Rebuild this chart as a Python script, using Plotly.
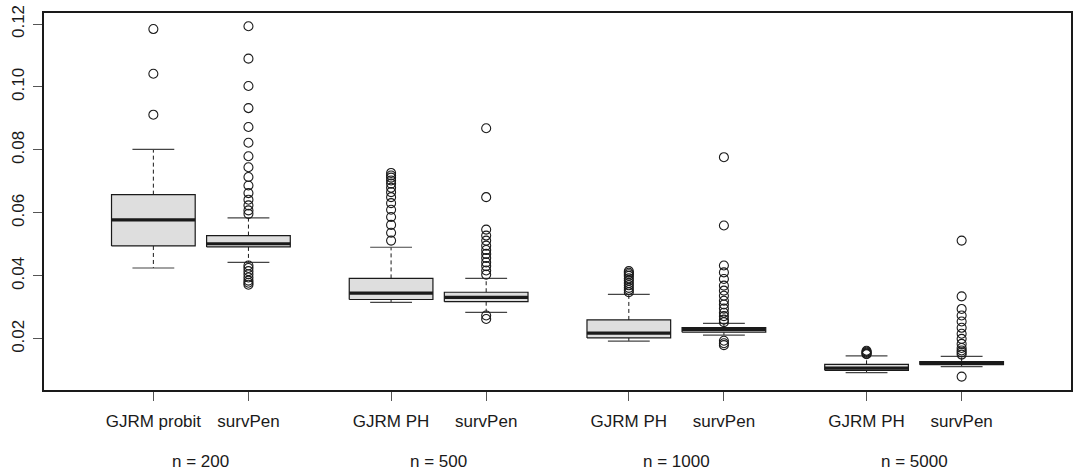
import plotly.graph_objects as go

# ---- data ----
positions = [1, 2, 3.5, 4.5, 6, 7, 8.5, 9.5]
method_labels = ["GJRM probit", "survPen", "GJRM PH", "survPen",
                 "GJRM PH", "survPen", "GJRM PH", "survPen"]
group_labels = ["n = 200", "n = 500", "n = 1000", "n = 5000"]
group_centers = [1.5, 4.0, 6.5, 9.0]

lower_whisker = [0.0425, 0.0443, 0.0316, 0.0284, 0.0193, 0.0212, 0.0093, 0.0112]
q1 = [0.0495, 0.0492, 0.0325, 0.0318, 0.0203, 0.0221, 0.0100, 0.0118]
median = [0.0578, 0.0502, 0.0345, 0.0332, 0.0218, 0.0229, 0.0107, 0.0123]
q3 = [0.0658, 0.0528, 0.0392, 0.0348, 0.0260, 0.0236, 0.0119, 0.0128]
upper_whisker = [0.0802, 0.0584, 0.0491, 0.0392, 0.0341, 0.0249, 0.0146, 0.0144]

outliers = [
    [0.1184, 0.1042, 0.0912],
    [0.1193, 0.1090, 0.1003, 0.0933, 0.0873, 0.0823, 0.0780, 0.0745, 0.0714,
     0.0687, 0.0663, 0.0642, 0.0624, 0.0608, 0.0597,
     0.0433, 0.0425, 0.0415, 0.0405, 0.0395, 0.0385, 0.0378, 0.0372],
    [0.0727, 0.0719, 0.0712, 0.0703, 0.0693, 0.0680, 0.0666, 0.0650, 0.0631,
     0.0610, 0.0587, 0.0562, 0.0537, 0.0512],
    [0.0869, 0.0650, 0.0547, 0.0528, 0.0512, 0.0496, 0.0482, 0.0470, 0.0457,
     0.0443, 0.0431, 0.0417, 0.0404, 0.0274, 0.0263],
    [0.0415, 0.0410, 0.0405, 0.0400, 0.0392, 0.0385, 0.0377, 0.0370, 0.0362,
     0.0355, 0.0348],
    [0.0777, 0.0560, 0.0433, 0.0411, 0.0390, 0.0369, 0.0353, 0.0337, 0.0321,
     0.0309, 0.0296, 0.0283, 0.0272, 0.0261, 0.0253, 0.0194, 0.0186, 0.0180],
    [0.0162, 0.0159, 0.0156, 0.0153, 0.0151],
    [0.0512, 0.0335, 0.0295, 0.0274, 0.0255, 0.0235, 0.0216, 0.0200, 0.0184,
     0.0171, 0.0163, 0.0157, 0.0150, 0.0080],
]

yticks = [0.02, 0.04, 0.06, 0.08, 0.10, 0.12]

# ---- style ----
BOX_HALF = 0.44
STAPLE_HALF = 0.22
FILL = "#dedede"
INK = "#1a1a1a"
FONT = "Liberation Sans, Arial, sans-serif"

fig = go.Figure()

for i, x in enumerate(positions):
    # whiskers (dashed)
    fig.add_trace(go.Scatter(
        x=[x, x, None, x, x],
        y=[q3[i], upper_whisker[i], None, q1[i], lower_whisker[i]],
        mode="lines", line=dict(color=INK, width=1, dash="4px,3px"),
        hoverinfo="skip", showlegend=False))
    # staples
    fig.add_trace(go.Scatter(
        x=[x - STAPLE_HALF, x + STAPLE_HALF, None, x - STAPLE_HALF, x + STAPLE_HALF],
        y=[upper_whisker[i], upper_whisker[i], None, lower_whisker[i], lower_whisker[i]],
        mode="lines", line=dict(color="#444444", width=1.2),
        hoverinfo="skip", showlegend=False))
    # box
    fig.add_trace(go.Scatter(
        x=[x - BOX_HALF, x + BOX_HALF, x + BOX_HALF, x - BOX_HALF, x - BOX_HALF],
        y=[q1[i], q1[i], q3[i], q3[i], q1[i]],
        mode="lines", fill="toself", fillcolor=FILL,
        line=dict(color=INK, width=1.2),
        hoverinfo="skip", showlegend=False))
    # median
    fig.add_trace(go.Scatter(
        x=[x - BOX_HALF, x + BOX_HALF], y=[median[i], median[i]],
        mode="lines", line=dict(color=INK, width=3.2),
        hoverinfo="skip", showlegend=False))
    # outliers
    fig.add_trace(go.Scatter(
        x=[x] * len(outliers[i]), y=outliers[i],
        mode="markers",
        marker=dict(symbol="circle-open", size=9, color=INK, line=dict(width=1.1)),
        hoverinfo="y", showlegend=False))

for c, lab in zip(group_centers, group_labels):
    fig.add_annotation(x=c, y=0, xref="x", yref="paper", yshift=-82,
                       borderpad=0, text=lab, showarrow=False,
                       font=dict(family=FONT, size=17, color=INK))

fig.update_xaxes(
    range=[-0.15, 10.65], tickvals=positions, ticktext=method_labels,
    ticks="outside", ticklen=9, tickcolor="#555555", tickwidth=1.2,
    ticklabelstandoff=6, automargin=False,
    showline=True, linecolor=INK, linewidth=1.8, mirror=True,
    showgrid=False, zeroline=False,
    tickfont=dict(family=FONT, size=17, color=INK))
fig.update_yaxes(
    range=[0.00375, 0.1235], tickvals=yticks,
    ticktext=[f"{v:.2f}" for v in yticks], tickangle=-90,
    ticks="outside", ticklen=9, tickcolor="#555555", tickwidth=1.2,
    ticklabelstandoff=2, automargin=False,
    showline=True, linecolor=INK, linewidth=1.8, mirror=True,
    showgrid=False, zeroline=False,
    tickfont=dict(family=FONT, size=17, color=INK))

fig.update_layout(
    width=1074, height=471,
    margin=dict(l=44, r=3, t=13, b=81),
    plot_bgcolor="white", paper_bgcolor="white",
    showlegend=False)

fig.write_html("out.html",
               config={"displayModeBar": False},
               post_script="document.body.style.margin='0';document.body.style.overflow='hidden';")
